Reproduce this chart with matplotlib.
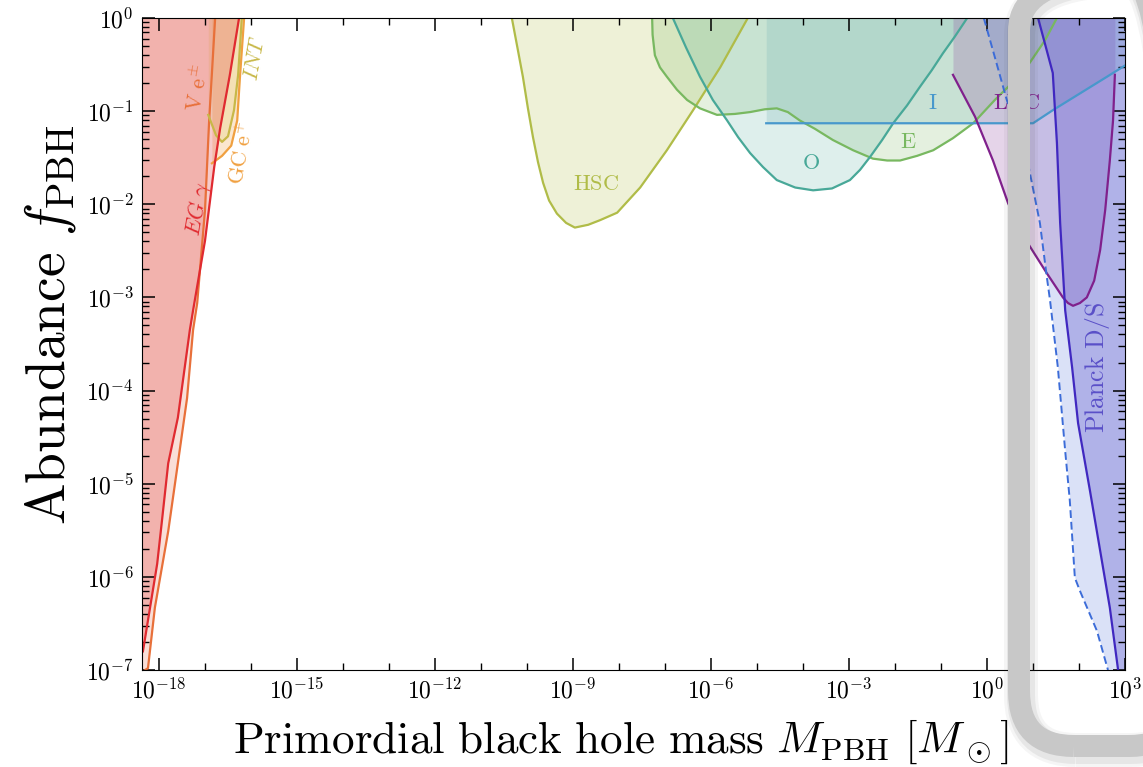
import numpy as np
import matplotlib
matplotlib.use("Agg")
import matplotlib.pyplot as plt
from matplotlib.patches import FancyBboxPatch
from matplotlib.transforms import IdentityTransform
from matplotlib.ticker import FixedLocator, FuncFormatter, NullFormatter

plt.rcParams['mathtext.fontset'] = 'cm'

# all values are log10 of (mass in M_sun, f_PBH)
# EG gamma (extragalactic gamma rays)
eg_m = [-18.35, -18.04, -17.93, -17.80, -17.59, -17.33, -17.26, -17.00, -16.80, -16.67, -16.46, -16.26]
eg_f = [-6.80, -5.86, -5.37, -4.78, -4.29, -3.35, -3.14, -2.39, -1.60, -1.18, -0.61, 0.0]
# Voyager e+-
ve_m = [-18.30, -18.24, -18.09, -17.80, -17.59, -17.39, -17.26, -17.17, -17.00, -16.91, -16.78]
ve_f = [-7.0, -6.98, -6.33, -5.51, -4.78, -4.08, -3.35, -3.06, -2.06, -1.10, 0.0]
# Galactic centre e+
gc_m = [-16.85, -16.63, -16.43, -16.30, -16.24, -16.15]
gc_f = [-1.56, -1.48, -1.37, -1.10, -0.63, 0.0]
# INTEGRAL
int_m = [-16.93, -16.76, -16.63, -16.50, -16.37, -16.28, -16.20]
int_f = [-1.04, -1.26, -1.33, -1.27, -0.99, -0.61, 0.0]
# Subaru HSC
hsc_m = [-10.33, -10.20, -10.09, -9.98, -9.87, -9.76, -9.65, -9.52, -9.35, -9.15, -8.96, -8.67,
         -8.41, -8.04, -7.54, -6.96, -6.39, -5.80, -5.20]
hsc_f = [0.0, -0.34, -0.63, -0.97, -1.28, -1.55, -1.77, -1.96, -2.10, -2.20, -2.25, -2.22,
         -2.17, -2.09, -1.82, -1.42, -0.99, -0.53, 0.0]
# EROS
e_m = [-7.28, -7.27, -7.22, -7.11, -6.96, -6.74, -6.52, -6.24, -5.87, -5.48, -5.15, -4.83, -4.57,
       -4.33, -4.07, -3.74, -3.35, -2.91, -2.48, -2.17, -1.89, -1.52, -1.17, -0.74, -0.30, 0.17,
       0.54, 0.93, 1.26, 1.52]
e_f = [0.0, -0.18, -0.40, -0.53, -0.63, -0.77, -0.88, -0.97, -1.04, -1.03, -1.01, -0.98, -0.97,
       -1.01, -1.10, -1.19, -1.31, -1.42, -1.51, -1.53, -1.53, -1.48, -1.42, -1.29, -1.13, -0.88,
       -0.70, -0.48, -0.24, 0.0]
# OGLE
o_m = [-6.83, -6.54, -6.24, -5.96, -5.65, -5.41, -5.15, -4.87, -4.57, -4.17, -3.78, -3.37, -2.98,
       -2.76, -2.54, -2.28, -2.04, -1.74, -1.46, -1.20, -0.96, -0.70, -0.43]
o_f = [0.0, -0.32, -0.63, -0.88, -1.10, -1.28, -1.45, -1.60, -1.74, -1.82, -1.85, -1.83, -1.74,
       -1.63, -1.49, -1.31, -1.13, -0.94, -0.74, -0.56, -0.38, -0.20, 0.0]
# Icarus
i_m = [-4.80, 1.00, 1.43, 2.02, 2.61, 3.0]
i_f = [-1.13, -1.13, -0.99, -0.81, -0.63, -0.51]
# LVC
lvc_m = [-0.74, -0.26, 0.13, 0.46, 0.89, 1.30, 1.65, 1.76, 1.87, 2.02, 2.17, 2.33, 2.46, 2.57,
         2.67, 2.74, 2.78]
lvc_f = [-0.61, -1.06, -1.53, -1.99, -2.42, -2.74, -3.00, -3.06, -3.09, -3.06, -3.00, -2.82,
         -2.49, -2.06, -1.53, -1.10, -0.61]
# Planck, disk accretion (solid) and spherical accretion (dashed)
pd_m = [1.11, 1.43, 1.52, 1.59, 1.70, 1.85, 1.98, 2.24, 2.46, 2.67, 2.85]
pd_f = [0.0, -0.59, -1.34, -2.20, -3.14, -3.75, -4.35, -5.08, -5.72, -6.33, -7.0]
ps_m = [-0.07, 0.17, 0.43, 0.89, 1.15, 1.30, 1.37, 1.54, 1.70, 1.80, 1.91, 2.02, 2.39, 2.63]
ps_f = [0.0, -0.42, -0.88, -1.56, -2.20, -2.78, -3.03, -3.75, -4.65, -5.18, -6.01, -6.15, -6.58, -7.0]

labels = ['$EG\\ \\gamma$', '$\\mathrm{V\\ e^{\\pm}}$', '$\\mathrm{GC\\ e^{+}}$', '$INT$', '$\\mathrm{HSC}$',
          '$\\mathrm{O}$', '$\\mathrm{E}$', '$\\mathrm{I}$', '$\\mathrm{LVC}$', '$\\mathrm{Planck\\ D/S}$']
label_m = [-17.15, -17.15, -16.20, -15.91, -8.50, -3.83, -1.72, -1.17, 0.65, 2.41]
label_f = [-2.05, -0.75, -1.45, -0.43, -1.78, -1.56, -1.33, -0.91, -0.91, -3.75]
label_rot = [80, 80, 80, 80, 0, 0, 0, 0, 0, 90]
label_size = [16, 16, 16, 16, 16, 16, 16, 16, 16, 18.5]
label_col = ['#e02a30', '#e8703a', '#f0a040', '#c8b848', '#b0bc48', '#48a898', '#78b860', '#4898cc', '#80208c', '#5a50c8']

p = lambda a: np.power(10.0, np.array(a))
xmin, xmax = 10**-18.37, 1e3
ymin, ymax = 1e-7, 1.0

fig = plt.figure(figsize=(11.43, 7.67), dpi=100)
ax = fig.add_axes([142/1143, 97/767, 983/1143, 652/767])
ax.set_xscale('log')
ax.set_yscale('log')

# evaporation bounds
ax.fill_betweenx(p(ve_f), xmin, p(ve_m), color='#e86a4a', alpha=0.22, lw=0)
ax.fill_between(p(gc_m), p(gc_f), ymax, color='#f0a040', alpha=0.25, lw=0)
ax.fill_between(p(int_m), p(int_f), ymax, color='#d8c850', alpha=0.2, lw=0)
ax.fill_betweenx(p(eg_f), xmin, p(eg_m), color='#e03030', alpha=0.25, lw=0)
ax.plot(p(ve_m), p(ve_f), color='#e8703a', lw=1.6)
ax.plot(p(gc_m), p(gc_f), color='#f0a040', lw=1.6)
ax.plot(p(int_m), p(int_f), color='#c8b848', lw=1.6)
ax.plot(p(eg_m), p(eg_f), color='#e02a30', lw=1.6)

# lensing
ax.fill_between(p(hsc_m), p(hsc_f), ymax, color='#b5c24a', alpha=0.22, lw=0)
ax.plot(p(hsc_m), p(hsc_f), color='#b0bc48', lw=1.6)
ax.fill_between(p(e_m), p(e_f), ymax, color='#7ab860', alpha=0.2, lw=0)
ax.plot(p(e_m), p(e_f), color='#78b860', lw=1.6)
ax.fill_between(p(o_m), p(o_f), ymax, color='#4aa898', alpha=0.18, lw=0)
ax.plot(p(o_m), p(o_f), color='#48a898', lw=1.6)
ax.fill_between(p(i_m), p(i_f), ymax, color='#7ab8b8', alpha=0.26, lw=0)
ax.plot(p(i_m), p(i_f), color='#4898cc', lw=1.6)

# GW and accretion
ax.fill_between(p(lvc_m), p(lvc_f), ymax, color='#8c3c9c', alpha=0.22, lw=0)
ax.plot(p(lvc_m), p(lvc_f), color='#80208c', lw=1.6)
ax.fill_betweenx(p(ps_f), p(ps_m), xmax, color='#4a6ad8', alpha=0.2, lw=0)
ax.fill_betweenx(p(pd_f), p(pd_m), xmax, color='#5048c8', alpha=0.3, lw=0)
ax.plot(p(ps_m), p(ps_f), color='#3c6cd8', lw=1.4, ls=(0, (4, 2)))
ax.plot(p(pd_m), p(pd_f), color='#4028c0', lw=1.6)

for t, m, f, r, s, c in zip(labels, label_m, label_f, label_rot, label_size, label_col):
    ax.text(10**m, 10**f, t, rotation=r, color=c, fontsize=s, ha='center', va='center')

ax.set_xlim(xmin, xmax)
ax.set_ylim(ymin, ymax)
ax.xaxis.set_major_locator(FixedLocator([10.0**k for k in range(-18, 4, 3)]))
ax.xaxis.set_minor_locator(FixedLocator([10.0**k for k in range(-18, 4)]))
ax.xaxis.set_major_formatter(FuncFormatter(lambda v, pos: '$10^{%d}$' % round(np.log10(v))))
ax.xaxis.set_minor_formatter(NullFormatter())
ax.yaxis.set_major_locator(FixedLocator([10.0**k for k in range(-7, 1)]))
ax.yaxis.set_minor_locator(FixedLocator([s * 10.0**k for k in range(-7, 0) for s in range(2, 10)]))
ax.yaxis.set_major_formatter(FuncFormatter(lambda v, pos: '$10^{%d}$' % round(np.log10(v))))
ax.yaxis.set_minor_formatter(NullFormatter())
ax.tick_params(which='both', direction='in', top=True, right=True, labelsize=17, pad=6)
ax.tick_params(which='major', length=9, width=1.1)
ax.tick_params(which='minor', length=5, width=1.0)

ax.set_xlabel('$\\mathrm{Primordial\\ black\\ hole\\ mass}\\ M_{\\mathrm{PBH}}\\ [M_\\odot]$', fontsize=32.5, labelpad=10)
ax.set_ylabel('$\\mathrm{Abundance}\\ f_{\\mathrm{PBH}}$', fontsize=40, labelpad=6)
ax.xaxis.label.set_x(0.487)
ax.yaxis.label.set_y(0.53)

# grey highlight frame around the high-mass end
box = dict(boxstyle='round,pad=0,rounding_size=55', transform=IdentityTransform(), fc='none', clip_on=False)
for lw, a in [(34, 0.05), (28, 0.08)]:
    fig.add_artist(FancyBboxPatch((1021, 17), 165, 770, ec='#404040', lw=lw * 0.72, alpha=a, **box))
fig.add_artist(FancyBboxPatch((1019, 21), 165, 770, ec='#c8c8c8', lw=22 * 0.72, **box))

fig.savefig('out.png', dpi=100)
